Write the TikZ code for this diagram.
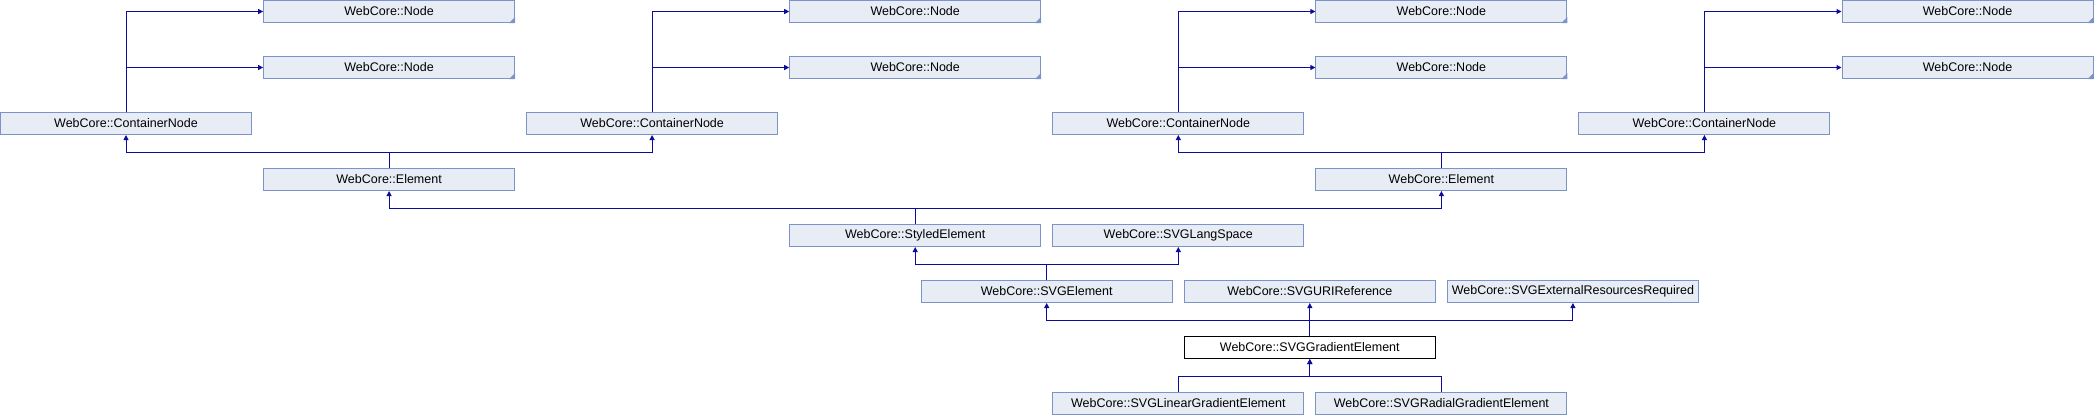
\documentclass[tikz,border=0pt]{standalone}
\usepackage{fontspec}
\setmainfont{Liberation Sans}
\usetikzlibrary{arrows.meta}
\definecolor{bfill}{HTML}{E8ECF5}
\definecolor{bdraw}{HTML}{7C93C8}
\definecolor{edgec}{HTML}{0C0C9A}
\begin{document}
\begin{tikzpicture}[x=1pt,y=-1pt,
  cls/.style={draw=bdraw, fill=bfill, line width=1pt, minimum width=251pt, minimum height=22pt, inner sep=0pt, font=\fontsize{12.5}{14}\selectfont},
  cur/.style={cls, draw=black, fill=white},
  edge/.style={draw=edgec, line width=1pt, -{Triangle[width=5pt,length=5pt]}}]
\useasboundingbox (0,0) rectangle (2094,416);
% row 0 and 1: Node
\node[cls] (n1a) at (389.1,11.5) {WebCore::Node};
\node[cls] (n2a) at (915.2,11.5) {WebCore::Node};
\node[cls] (n3a) at (1441.4,11.5) {WebCore::Node};
\node[cls] (n4a) at (1967.5,11.5) {WebCore::Node};
\node[cls] (n1b) at (389.1,67.5) {WebCore::Node};
\node[cls] (n2b) at (915.2,67.5) {WebCore::Node};
\node[cls] (n3b) at (1441.4,67.5) {WebCore::Node};
\node[cls] (n4b) at (1967.5,67.5) {WebCore::Node};
\foreach \n in {n1a,n2a,n3a,n4a,n1b,n2b,n3b,n4b}{
  \fill[bdraw] (\n.south east) -- ++(-6,0) -- ++(6,-6) -- cycle;
}
% row 2: ContainerNode
\node[cls] (cn1) at (126,123.5) {WebCore::ContainerNode};
\node[cls] (cn2) at (652.1,123.5) {WebCore::ContainerNode};
\node[cls] (cn3) at (1178.3,123.5) {WebCore::ContainerNode};
\node[cls] (cn4) at (1704.4,123.5) {WebCore::ContainerNode};
% row 3: Element
\node[cls] (el1) at (389.1,179.5) {WebCore::Element};
\node[cls] (el2) at (1441.4,179.5) {WebCore::Element};
% row 4
\node[cls] (sty) at (915.2,235.5) {WebCore::StyledElement};
\node[cls] (lang) at (1178.3,235.5) {WebCore::SVGLangSpace};
% row 5
\node[cls] (svg) at (1046.7,291.5) {WebCore::SVGElement};
\node[cls] (uri) at (1309.8,291.5) {WebCore::SVGURIReference};
\node[cls] (ext) at (1572.9,291.5) {WebCore::SVGExternalResourcesRequired};
% row 6
\node[cur] (grad) at (1309.8,347.5) {WebCore::SVGGradientElement};
% row 7
\node[cls] (lin) at (1178.3,403.5) {WebCore::SVGLinearGradientElement};
\node[cls] (rad) at (1441.4,403.5) {WebCore::SVGRadialGradientElement};
% edges ContainerNode -> Node
\foreach \c/\a/\b in {cn1/n1a/n1b, cn2/n2a/n2b, cn3/n3a/n3b, cn4/n4a/n4b}{
  \draw[edge] (\c.north) |- (\a.west);
  \draw[edge] (\c.north) |- (\b.west);
}
% Element -> ContainerNode
\draw[edge] (el1.north) -- ++(0,-16) -| (cn1.south);
\draw[edge] (el1.north) -- ++(0,-16) -| (cn2.south);
\draw[edge] (el2.north) -- ++(0,-16) -| (cn3.south);
\draw[edge] (el2.north) -- ++(0,-16) -| (cn4.south);
% StyledElement -> Element
\draw[edge] (sty.north) -- ++(0,-16) -| (el1.south);
\draw[edge] (sty.north) -- ++(0,-16) -| (el2.south);
% SVGElement -> StyledElement, SVGLangSpace
\draw[edge] (svg.north) -- ++(0,-16) -| (sty.south);
\draw[edge] (svg.north) -- ++(0,-16) -| (lang.south);
% SVGGradientElement -> parents
\draw[edge] (grad.north) -- ++(0,-16) -| (svg.south);
\draw[edge] (grad.north) -- (uri.south);
\draw[edge] (grad.north) -- ++(0,-16) -| (ext.south);
% children -> SVGGradientElement
\draw[edge] (lin.north) -- ++(0,-16) -| (grad.south);
\draw[edge] (rad.north) -- ++(0,-16) -| (grad.south);
\end{tikzpicture}
\end{document}
